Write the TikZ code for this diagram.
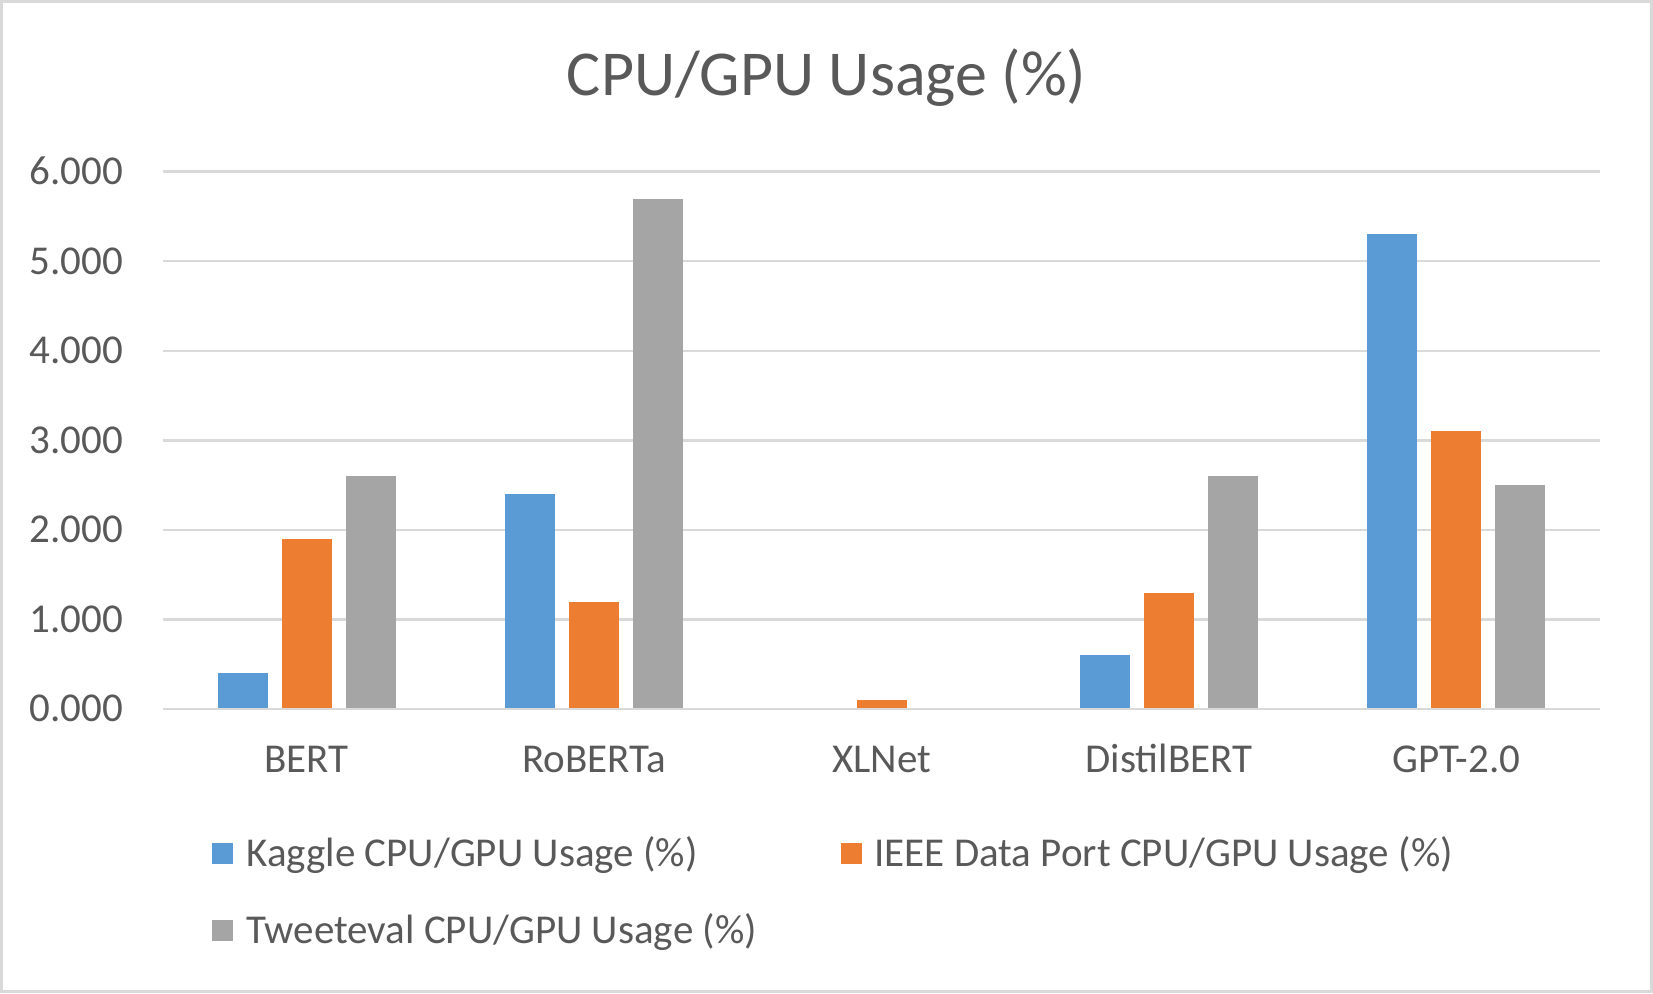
\documentclass[tikz,border=0pt]{standalone}
\usepackage{fontspec}
\setmainfont{Carlito}
\usetikzlibrary{positioning}

\definecolor{kaggle}{HTML}{5B9BD5}
\definecolor{ieee}{HTML}{ED7D31}
\definecolor{tweet}{HTML}{A5A5A5}
\definecolor{txtgray}{HTML}{595959}
\definecolor{gridgray}{HTML}{D9D9D9}

\begin{document}
\begin{tikzpicture}[
        x=1pt, y=1pt,
        lbl/.style={text=txtgray, inner sep=0pt, font=\fontsize{41}{49}\selectfont},
        gridline/.style={draw=gridgray, line width=2.5pt},
        keybox/.style={minimum size=21pt, inner sep=0pt, draw=none}
    ]
    \useasboundingbox (0,0) rectangle (1653,993);
    \draw[gridgray, line width=3pt] (1.5,1.5) rectangle (1651.5,991.5);

    \node[text=txtgray, inner sep=0pt, anchor=base,
          font=\fontsize{64}{76}\selectfont] (title) at (826.5,897) {CPU/GPU Usage (\%)};

    % value axis
    \foreach \v in {1,...,6}
        \draw[gridline] (163,284+89.55*\v) -- (1600,284+89.55*\v);
    \foreach \v in {0,...,6}
        \node[lbl, anchor=base east] (tick\v) at (123,271+89.55*\v) {\v.000};

    % bars: kaggle / ieee / tweeteval
    \foreach \i/\ka/\ie/\tw in {1/0.4/1.9/2.6, 2/2.4/1.2/5.7, 3/0/0.1/0, 4/0.6/1.3/2.6, 5/5.3/3.1/2.5} {
        \pgfmathsetmacro{\cx}{163+287.4*\i-143.7}
        \fill[kaggle] (\cx-89,284) rectangle (\cx-39,284+89.55*\ka);
        \fill[ieee]   (\cx-25,284) rectangle (\cx+25,284+89.55*\ie);
        \fill[tweet]  (\cx+39,284) rectangle (\cx+89,284+89.55*\tw);
    }
    \draw[gridline] (163,284) -- (1600,284);

    % categories
    \foreach \name [count=\i] in {BERT,RoBERTa,XLNet,DistilBERT,GPT-2.0}
        \node[lbl, anchor=base] (cat\i) at (163+287.4*\i-143.7,220) {\name};

    % legend
    \node[keybox, fill=kaggle, anchor=south west] (kagglekey) at (212,129) {};
    \node[lbl, anchor=base west] (kaggletext) at ([xshift=13pt,yshift=-2pt]kagglekey.south east)
        {Kaggle CPU/GPU Usage (\%)};
    \node[keybox, fill=ieee, anchor=south west] (ieeekey) at (841,129) {};
    \node[lbl, anchor=base west] (ieeetext) at ([xshift=12pt,yshift=-2pt]ieeekey.south east)
        {IEEE Data Port CPU/GPU Usage (\%)};
    \node[keybox, fill=tweet, anchor=south west] (tweetkey) at (212,52) {};
    \node[lbl, anchor=base west] (tweettext) at ([xshift=13pt,yshift=-2pt]tweetkey.south east)
        {Tweeteval CPU/GPU Usage (\%)};
\end{tikzpicture}
\end{document}
